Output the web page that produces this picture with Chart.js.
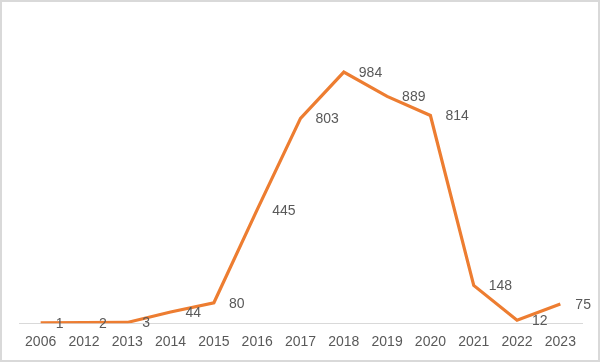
<!DOCTYPE html>
<html>
<head>
<meta charset="utf-8">
<script src="https://cdn.jsdelivr.net/npm/chart.js@4"></script>
<style>
html,body{margin:0;padding:0;background:#fff;}
#wrap{width:600px;height:362px;position:relative;}
</style>
</head>
<body>
<div id="wrap"><canvas id="c" width="600" height="362"></canvas></div>
<script>
const categories = ["2006","2012","2013","2014","2015","2016","2017","2018","2019","2020","2021","2022","2023"];
const values = [1, 2, 3, 44, 80, 445, 803, 984, 889, 814, 148, 12, 75];

const frame = {
  id: 'frame',
  beforeDraw(chart) {
    const ctx = chart.ctx;
    ctx.save();
    ctx.fillStyle = '#ffffff';
    ctx.fillRect(0, 0, chart.width, chart.height);
    ctx.strokeStyle = '#d9d9d9';
    ctx.lineWidth = 2;
    ctx.strokeRect(1, 1, chart.width - 2, chart.height - 2);
    ctx.restore();
  }
};

const labels = {
  id: 'valueLabels',
  afterDatasetsDraw(chart) {
    const ctx = chart.ctx;
    const meta = chart.getDatasetMeta(0);
    ctx.save();
    ctx.font = '14px "Liberation Sans", Arial, sans-serif';
    ctx.fillStyle = '#595959';
    ctx.textAlign = 'left';
    ctx.textBaseline = 'middle';
    meta.data.forEach((pt, i) => {
      ctx.fillText(String(values[i]), pt.x + 15, pt.y + 1);
    });
    ctx.restore();
  }
};

new Chart(document.getElementById('c'), {
  type: 'line',
  data: {
    labels: categories,
    datasets: [{
      data: values,
      borderColor: '#ED7D31',
      borderWidth: 3.2,
      pointRadius: 0,
      tension: 0,
      fill: false
    }]
  },
  options: {
    responsive: false,
    animation: false,
    layout: { padding: { left: 19, right: 18, top: 17, bottom: 8 } },
    plugins: { legend: { display: false }, tooltip: { enabled: false } },
    scales: {
      x: {
        offset: true,
        grid: { display: false },
        border: { display: true, color: '#d9d9d9', width: 1 },
        ticks: {
          color: '#595959',
          font: { family: '"Liberation Sans", Arial, sans-serif', size: 14 },
          padding: 3,
          maxRotation: 0,
          autoSkip: false
        }
      },
      y: {
        display: false,
        min: 0,
        max: 1200
      }
    }
  },
  plugins: [frame, labels]
});
</script>
</body>
</html>
